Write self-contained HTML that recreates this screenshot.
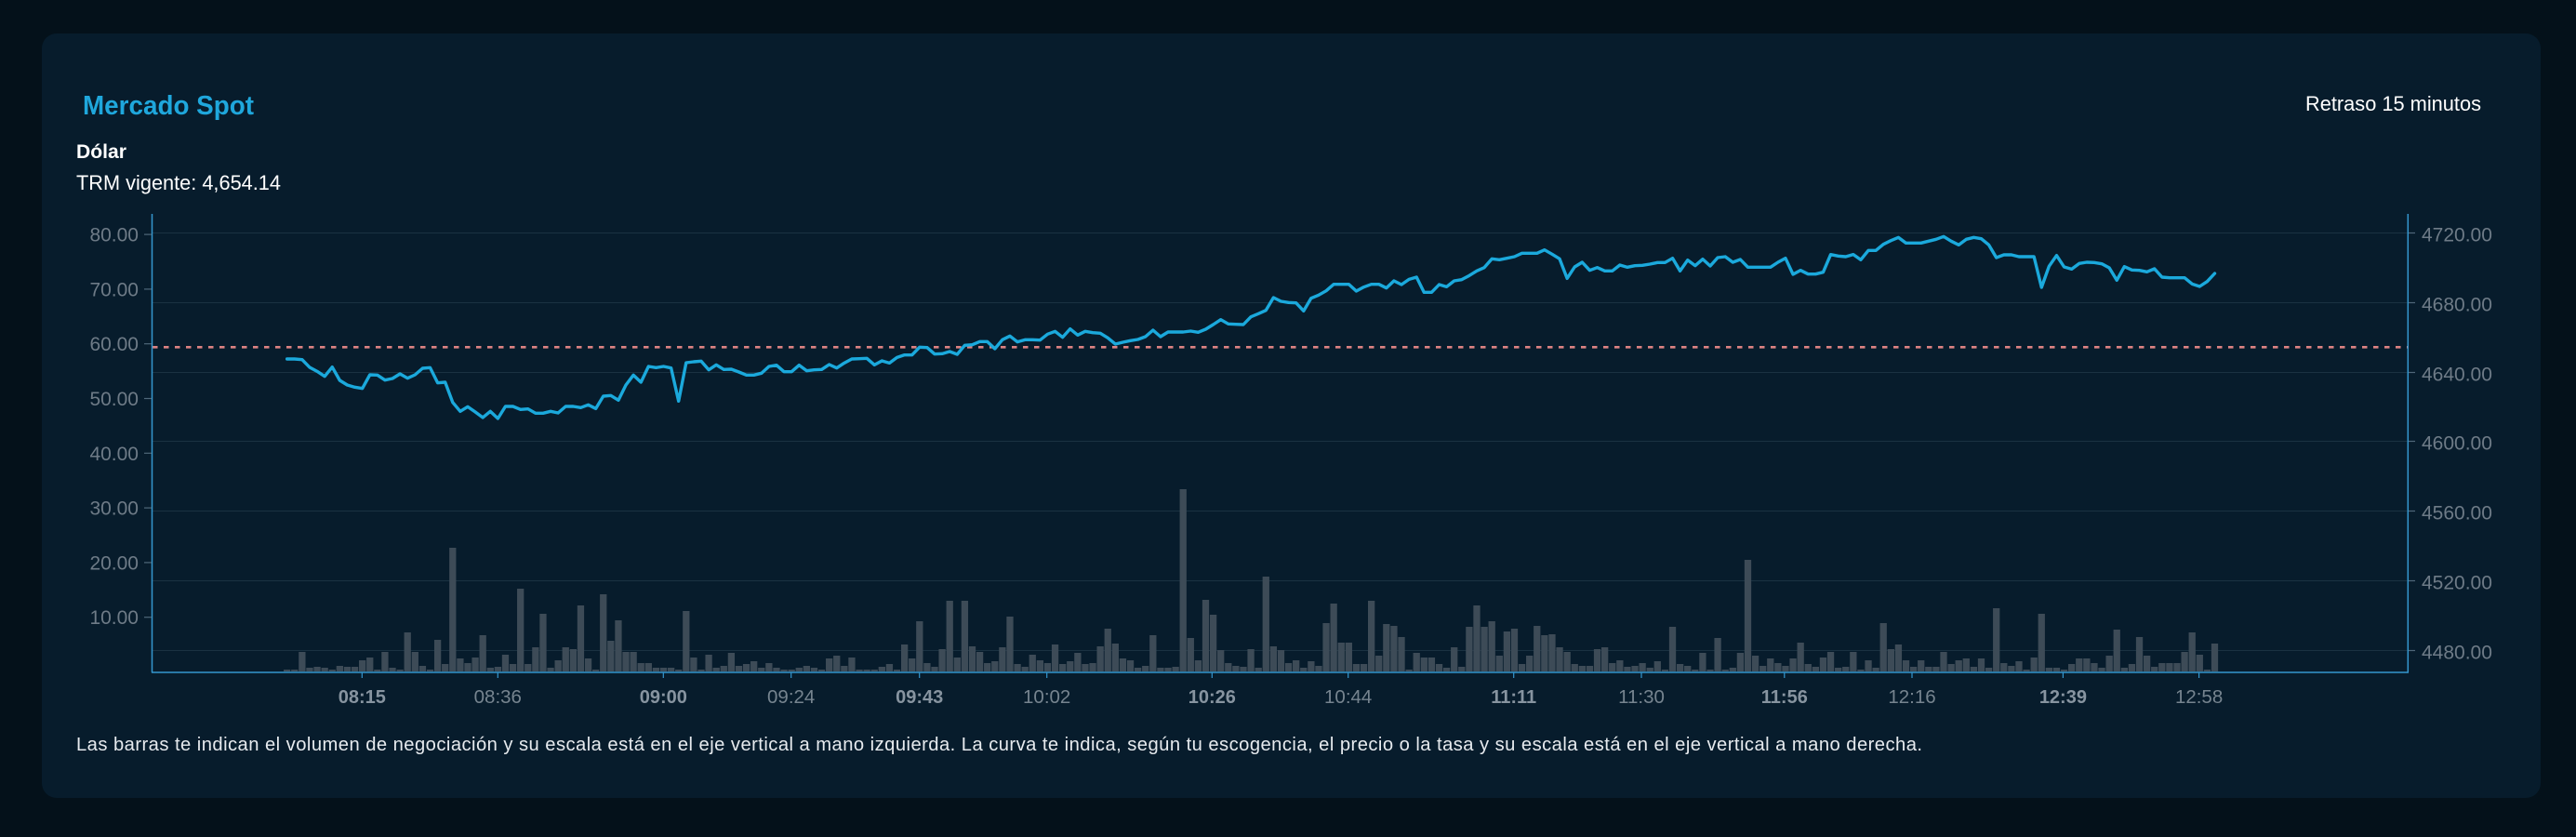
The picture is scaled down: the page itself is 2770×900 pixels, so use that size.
<!DOCTYPE html>
<html lang="es">
<head>
<meta charset="utf-8">
<title>Mercado Spot</title>
<style>
  html, body { margin: 0; padding: 0; background: #04111a; }
  body { width: 2770px; height: 900px; overflow: hidden; }
  svg { display: block; }
  text { font-family: "Liberation Sans", "DejaVu Sans", sans-serif; }
</style>
</head>
<body>
<svg width="2770" height="900" viewBox="0 0 2770 900" xmlns="http://www.w3.org/2000/svg">
  <!-- backgrounds -->
  <rect x="0" y="0" width="2770" height="900" fill="#04111a"/>
  <rect x="45" y="36" width="2687" height="822" rx="16" ry="16" fill="#071c2c"/>

  <!-- header texts -->
  <text x="89" y="123" font-size="29" font-weight="bold" fill="#1fa7dc" textLength="184" lengthAdjust="spacingAndGlyphs">Mercado Spot</text>
  <text x="2479" y="119" font-size="22.5" fill="#ffffff" textLength="189" lengthAdjust="spacingAndGlyphs">Retraso 15 minutos</text>
  <text x="82" y="170" font-size="21" font-weight="bold" fill="#ffffff" textLength="54" lengthAdjust="spacingAndGlyphs">Dólar</text>
  <text x="82" y="204" font-size="22.5" fill="#ffffff" textLength="220" lengthAdjust="spacingAndGlyphs">TRM vigente: 4,654.14</text>

  <!-- gridlines (right axis) -->
  <g stroke="#1a3242" stroke-width="1">
    <line x1="164" y1="250.5" x2="2589" y2="250.5"/>
    <line x1="164" y1="325.5" x2="2589" y2="325.5"/>
    <line x1="164" y1="400.5" x2="2589" y2="400.5"/>
    <line x1="164" y1="474.5" x2="2589" y2="474.5"/>
    <line x1="164" y1="549.5" x2="2589" y2="549.5"/>
    <line x1="164" y1="624.5" x2="2589" y2="624.5"/>
    <line x1="164" y1="699.5" x2="2589" y2="699.5"/>
  </g>

  <!-- volume bars -->
  <g transform="translate(300.573 722) scale(8.097 1)">
    <path fill="#3d4b57" d="M0.55 0v-2h.9v2zm1 0v-2h.9v2zm1 0v-21h.9v21zm1 0v-4h.9v4zm1 0v-5h.9v5zm1 0v-4h.9v4zm1 0v-2h.9v2zm1 0v-6h.9v6zm1 0v-5h.9v5zm1 0v-5h.9v5zm1 0
v-12h.9v12zm1 0v-15h.9v15zm1 0v-2h.9v2zm1 0v-21h.9v21zm1 0v-4h.9v4zm1 0v-2h.9v2zm1 0v-42h.9v42zm1 0v-21h.9v21zm1 0v-6h.9v6zm1 0v-2h.9v2zm1 0
v-34h.9v34zm1 0v-8h.9v8zm1 0v-133h.9v133zm1 0v-14h.9v14zm1 0v-9h.9v9zm1 0v-15h.9v15zm1 0v-39h.9v39zm1 0v-4h.9v4zm1 0v-5h.9v5zm1 0v-18h.9v18zm1 0
v-8h.9v8zm1 0v-89h.9v89zm1 0v-8h.9v8zm1 0v-26h.9v26zm1 0v-62h.9v62zm1 0v-4h.9v4zm1 0v-12h.9v12zm1 0v-26h.9v26zm1 0v-24h.9v24zm1 0v-71h.9v71zm1 0
v-14h.9v14zm1 0v-2h.9v2zm1 0v-83h.9v83zm1 0v-33h.9v33zm1 0v-55h.9v55zm1 0v-21h.9v21zm1 0v-21h.9v21zm1 0v-9h.9v9zm1 0v-9h.9v9zm1 0v-4h.9v4zm1 0
v-4h.9v4zm1 0v-4h.9v4zm1 0v-2h.9v2zm1 0v-65h.9v65zm1 0v-15h.9v15zm1 0v-2h.9v2zm1 0v-18h.9v18zm1 0v-4h.9v4zm1 0v-6h.9v6zm1 0v-20h.9v20zm1 0
v-6h.9v6zm1 0v-8h.9v8zm1 0v-11h.9v11zm1 0v-4h.9v4zm1 0v-9h.9v9zm1 0v-4h.9v4zm1 0v-2h.9v2zm1 0v-2h.9v2zm1 0v-4h.9v4zm1 0v-6h.9v6zm1 0
v-4h.9v4zm1 0v-2h.9v2zm1 0v-14h.9v14zm1 0v-17h.9v17zm1 0v-6h.9v6zm1 0v-15h.9v15zm1 0v-2h.9v2zm1 0v-2h.9v2zm1 0v-2h.9v2zm1 0v-5h.9v5zm1 0
v-8h.9v8zm1 0v-2h.9v2zm1 0v-29h.9v29zm1 0v-14h.9v14zm1 0v-54h.9v54zm1 0v-9h.9v9zm1 0v-5h.9v5zm1 0v-24h.9v24zm1 0v-76h.9v76zm1 0v-15h.9v15zm1 0
v-76h.9v76zm1 0v-27h.9v27zm1 0v-21h.9v21zm1 0v-9h.9v9zm1 0v-11h.9v11zm1 0v-26h.9v26zm1 0v-59h.9v59zm1 0v-8h.9v8zm1 0v-5h.9v5zm1 0v-18h.9v18zm1 0
v-12h.9v12zm1 0v-9h.9v9zm1 0v-29h.9v29zm1 0v-8h.9v8zm1 0v-11h.9v11zm1 0v-20h.9v20zm1 0v-8h.9v8zm1 0v-9h.9v9zm1 0v-27h.9v27zm1 0v-46h.9v46zm1 0
v-30h.9v30zm1 0v-14h.9v14zm1 0v-12h.9v12zm1 0v-4h.9v4zm1 0v-6h.9v6zm1 0v-39h.9v39zm1 0v-4h.9v4zm1 0v-4h.9v4zm1 0v-5h.9v5zm1 0v-196h.9v196zm1 0
v-36h.9v36zm1 0v-12h.9v12zm1 0v-77h.9v77zm1 0v-61h.9v61zm1 0v-23h.9v23zm1 0v-9h.9v9zm1 0v-6h.9v6zm1 0v-5h.9v5zm1 0v-24h.9v24zm1 0v-4h.9v4zm1 0
v-102h.9v102zm1 0v-27h.9v27zm1 0v-23h.9v23zm1 0v-9h.9v9zm1 0v-12h.9v12zm1 0v-4h.9v4zm1 0v-11h.9v11zm1 0v-6h.9v6zm1 0v-52h.9v52zm1 0v-73h.9v73zm1 0
v-31h.9v31zm1 0v-31h.9v31zm1 0v-8h.9v8zm1 0v-8h.9v8zm1 0v-76h.9v76zm1 0v-17h.9v17zm1 0v-51h.9v51zm1 0v-49h.9v49zm1 0v-37h.9v37zm1 0v-2h.9v2zm1 0
v-20h.9v20zm1 0v-15h.9v15zm1 0v-15h.9v15zm1 0v-8h.9v8zm1 0v-4h.9v4zm1 0v-26h.9v26zm1 0v-5h.9v5zm1 0v-48h.9v48zm1 0v-71h.9v71zm1 0v-48h.9v48zm1 0
v-54h.9v54zm1 0v-17h.9v17zm1 0v-43h.9v43zm1 0v-46h.9v46zm1 0v-8h.9v8zm1 0v-17h.9v17zm1 0v-49h.9v49zm1 0v-39h.9v39zm1 0v-40h.9v40zm1 0v-26h.9v26zm1 0
v-21h.9v21zm1 0v-8h.9v8zm1 0v-6h.9v6zm1 0v-6h.9v6zm1 0v-24h.9v24zm1 0v-26h.9v26zm1 0v-9h.9v9zm1 0v-12h.9v12zm1 0v-5h.9v5zm1 0v-6h.9v6zm1 0
v-9h.9v9zm1 0v-4h.9v4zm1 0v-11h.9v11zm1 0v-2h.9v2zm1 0v-48h.9v48zm1 0v-8h.9v8zm1 0v-6h.9v6zm1 0v-2h.9v2zm1 0v-20h.9v20zm1 0v-2h.9v2zm1 0
v-36h.9v36zm1 0v-2h.9v2zm1 0v-4h.9v4zm1 0v-20h.9v20zm1 0v-120h.9v120zm1 0v-17h.9v17zm1 0v-6h.9v6zm1 0v-14h.9v14zm1 0v-9h.9v9zm1 0v-6h.9v6zm1 0
v-14h.9v14zm1 0v-31h.9v31zm1 0v-8h.9v8zm1 0v-5h.9v5zm1 0v-15h.9v15zm1 0v-21h.9v21zm1 0v-4h.9v4zm1 0v-5h.9v5zm1 0v-21h.9v21zm1 0v-2h.9v2zm1 0
v-12h.9v12zm1 0v-4h.9v4zm1 0v-52h.9v52zm1 0v-24h.9v24zm1 0v-29h.9v29zm1 0v-12h.9v12zm1 0v-5h.9v5zm1 0v-12h.9v12zm1 0v-5h.9v5zm1 0v-5h.9v5zm1 0
v-21h.9v21zm1 0v-8h.9v8zm1 0v-12h.9v12zm1 0v-14h.9v14zm1 0v-5h.9v5zm1 0v-14h.9v14zm1 0v-4h.9v4zm1 0v-68h.9v68zm1 0v-9h.9v9zm1 0v-6h.9v6zm1 0
v-11h.9v11zm1 0v-2h.9v2zm1 0v-15h.9v15zm1 0v-62h.9v62zm1 0v-4h.9v4zm1 0v-4h.9v4zm1 0v-2h.9v2zm1 0v-8h.9v8zm1 0v-14h.9v14zm1 0v-14h.9v14zm1 0
v-9h.9v9zm1 0v-4h.9v4zm1 0v-17h.9v17zm1 0v-45h.9v45zm1 0v-4h.9v4zm1 0v-8h.9v8zm1 0v-37h.9v37zm1 0v-17h.9v17zm1 0v-5h.9v5zm1 0v-9h.9v9zm1 0
v-9h.9v9zm1 0v-9h.9v9zm1 0v-21h.9v21zm1 0v-42h.9v42zm1 0v-18h.9v18zm1 0v-2h.9v2zm1 0v-30h.9v30z"/>
  </g>

  <!-- TRM dashed reference line -->
  <line x1="164" y1="373.3" x2="2589" y2="373.3" stroke="#dc8282" stroke-width="2.6" stroke-dasharray="5.5 6.5"/>

  <!-- price line -->
  <g transform="translate(300.573 240) scale(8.097 0.333333)">
    <polyline fill="none" stroke="#1ba9dc" stroke-width="3.4" stroke-linejoin="round" stroke-linecap="round" vector-effect="non-scaling-stroke"
      points="1,438 2,438 3,440 4,465 5,478 6,494 7,464 8,507 9,522 10,529
11,533 12,489 13,490 14,506 15,501 16,486 17,500 18,489 19,468 20,466
21,515 22,513 23,578 24,607 25,592 26,609 27,627 28,607 29,630 30,591
31,591 32,601 33,599 34,613 35,613 36,607 37,612 38,591 39,591 40,595
41,586 42,598 43,558 44,556 45,571 46,522 47,490 48,513 49,462 50,466
51,462 52,467 53,574 54,450 55,447 56,445 57,473 58,457 59,472 60,471
61,480 62,490 63,490 64,484 65,462 66,458 67,479 68,479 69,458 70,476
71,473 72,472 73,456 74,467 75,451 76,438 77,437 78,436 79,457 80,444
81,451 82,433 83,425 84,425 85,400 86,401 87,422 88,421 89,414 90,423
91,394 92,392 93,382 94,382 95,405 96,376 97,364 98,383 99,376 100,376
101,377 102,358 103,349 104,368 105,341 106,361 107,349 108,353 109,355 110,370
111,390 112,384 113,379 114,375 115,366 116,345 117,366 118,351 119,351 120,351
121,348 122,352 123,342 124,327 125,311 126,325 127,326 128,327 129,302 130,292
131,281 132,240 133,252 134,256 135,257 136,283 137,242 138,232 139,218 140,197
141,197 142,197 143,219 144,206 145,197 146,197 147,209 148,186 149,198 150,181
151,174 152,223 153,223 154,198 155,205 156,186 157,182 158,169 159,154 160,143
161,115 162,118 163,113 164,108 165,97 166,97 167,97 168,86 169,100 170,115
171,178 172,141 173,126 174,152 175,143 176,154 177,154 178,135 179,142 180,137
181,136 182,132 183,127 184,127 185,113 186,154 187,119 188,137 189,116 190,138
191,111 192,108 193,126 194,117 195,142 196,142 197,142 198,142 199,126 200,113
201,165 202,152 203,164 204,164 205,158 206,101 207,106 208,108 209,101 210,118
211,88 212,88 213,68 214,56 215,46 216,64 217,64 218,64 219,58 220,52
221,43 222,58 223,70 224,52 225,46 226,50 227,70 228,111 229,102 230,102
231,108 232,108 233,108 234,207 235,139 236,104 237,141 238,148 239,130 240,126
241,127 242,131 243,144 244,184 245,140 246,151 247,152 248,157 249,147 250,174
251,176 252,176 253,176 254,196 255,204 256,188 257,162"/>
  </g>

  <!-- axes -->
  <g stroke="#3597cf" stroke-width="1.5" fill="none">
    <line x1="163.5" y1="230" x2="163.5" y2="723.3"/>
    <line x1="2589.3" y1="230" x2="2589.3" y2="723.3"/>
    <line x1="163" y1="723" x2="2590" y2="723"/>
  </g>

  <!-- left ticks -->
  <g stroke="#4f6779" stroke-width="1.2">
    <line x1="155" y1="252.1" x2="163" y2="252.1"/>
    <line x1="155" y1="310.9" x2="163" y2="310.9"/>
    <line x1="155" y1="369.7" x2="163" y2="369.7"/>
    <line x1="155" y1="428.5" x2="163" y2="428.5"/>
    <line x1="155" y1="487.3" x2="163" y2="487.3"/>
    <line x1="155" y1="546.1" x2="163" y2="546.1"/>
    <line x1="155" y1="604.9" x2="163" y2="604.9"/>
    <line x1="155" y1="663.7" x2="163" y2="663.7"/>
  </g>
  <!-- right ticks -->
  <g stroke="#4f6779" stroke-width="1.2">
    <line x1="2590" y1="250.5" x2="2597" y2="250.5"/>
    <line x1="2590" y1="325.5" x2="2597" y2="325.5"/>
    <line x1="2590" y1="400.5" x2="2597" y2="400.5"/>
    <line x1="2590" y1="474.5" x2="2597" y2="474.5"/>
    <line x1="2590" y1="549.5" x2="2597" y2="549.5"/>
    <line x1="2590" y1="624.5" x2="2597" y2="624.5"/>
    <line x1="2590" y1="699.5" x2="2597" y2="699.5"/>
  </g>
  <!-- bottom ticks -->
  <g stroke="#3597cf" stroke-width="1.2">
    <line x1="389.3" y1="723" x2="389.3" y2="729"/>
    <line x1="535.3" y1="723" x2="535.3" y2="729"/>
    <line x1="713.3" y1="723" x2="713.3" y2="729"/>
    <line x1="850.7" y1="723" x2="850.7" y2="729"/>
    <line x1="988.7" y1="723" x2="988.7" y2="729"/>
    <line x1="1125.7" y1="723" x2="1125.7" y2="729"/>
    <line x1="1303.3" y1="723" x2="1303.3" y2="729"/>
    <line x1="1449.7" y1="723" x2="1449.7" y2="729"/>
    <line x1="1627.7" y1="723" x2="1627.7" y2="729"/>
    <line x1="1765" y1="723" x2="1765" y2="729"/>
    <line x1="1918.8" y1="723" x2="1918.8" y2="729"/>
    <line x1="2056" y1="723" x2="2056" y2="729"/>
    <line x1="2218.4" y1="723" x2="2218.4" y2="729"/>
    <line x1="2364.6" y1="723" x2="2364.6" y2="729"/>
  </g>

  <!-- left axis labels -->
  <g font-size="21" fill="#6e7b87" text-anchor="end">
    <text x="149" y="259.6">80.00</text>
    <text x="149" y="318.4">70.00</text>
    <text x="149" y="377.2">60.00</text>
    <text x="149" y="436">50.00</text>
    <text x="149" y="494.8">40.00</text>
    <text x="149" y="553.6">30.00</text>
    <text x="149" y="612.4">20.00</text>
    <text x="149" y="671.2">10.00</text>
  </g>

  <!-- right axis labels -->
  <g font-size="21" fill="#6e7b87">
    <text x="2604" y="259.5">4720.00</text>
    <text x="2604" y="334.5">4680.00</text>
    <text x="2604" y="409.5">4640.00</text>
    <text x="2604" y="483.5">4600.00</text>
    <text x="2604" y="558.5">4560.00</text>
    <text x="2604" y="633.5">4520.00</text>
    <text x="2604" y="708.5">4480.00</text>
  </g>

  <!-- x axis labels -->
  <g font-size="20.5" text-anchor="middle">
    <text x="389.3" y="756" fill="#8794a0" font-weight="bold" font-size="20">08:15</text>
    <text x="535.3" y="756" fill="#76848f">08:36</text>
    <text x="713.3" y="756" fill="#8794a0" font-weight="bold" font-size="20">09:00</text>
    <text x="850.7" y="756" fill="#76848f">09:24</text>
    <text x="988.7" y="756" fill="#8794a0" font-weight="bold" font-size="20">09:43</text>
    <text x="1125.7" y="756" fill="#76848f">10:02</text>
    <text x="1303.3" y="756" fill="#8794a0" font-weight="bold" font-size="20">10:26</text>
    <text x="1449.7" y="756" fill="#76848f">10:44</text>
    <text x="1627.7" y="756" fill="#8794a0" font-weight="bold" font-size="20">11:11</text>
    <text x="1765" y="756" fill="#76848f">11:30</text>
    <text x="1918.8" y="756" fill="#8794a0" font-weight="bold" font-size="20">11:56</text>
    <text x="2056" y="756" fill="#76848f">12:16</text>
    <text x="2218.4" y="756" fill="#8794a0" font-weight="bold" font-size="20">12:39</text>
    <text x="2364.6" y="756" fill="#76848f">12:58</text>
  </g>

  <!-- footnote -->
  <text x="82" y="807" font-size="20.2" fill="#e6eaee" textLength="1985" lengthAdjust="spacing">Las barras te indican el volumen de negociación y su escala está en el eje vertical a mano izquierda. La curva te indica, según tu escogencia, el precio o la tasa y su escala está en el eje vertical a mano derecha.</text>
</svg>
</body>
</html>
